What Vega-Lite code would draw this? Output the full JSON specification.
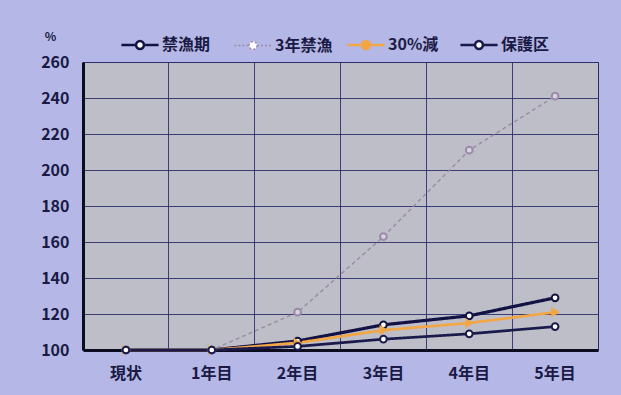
{
  "$schema": "https://vega.github.io/schema/vega-lite/v6.json",
  "width": 515,
  "height": 288,
  "autosize": {"type": "none"},
  "padding": {"left": 83, "top": 62, "right": 23, "bottom": 45},
  "background": "#b5b8e6",
  "config": {
    "view": {"fill": "#bebec8", "stroke": "#2c2c64", "strokeWidth": 1},
    "font": "Noto Sans CJK JP",
    "axis": {
      "labelFont": "Noto Sans CJK JP",
      "labelFontWeight": "bold",
      "labelColor": "#1a1a44",
      "gridColor": "#2e2e6e",
      "gridWidth": 1,
      "gridOpacity": 0.9
    }
  },
  "data": {
    "values": [
      {"year": "現状", "series": "禁漁期", "value": 100},
      {"year": "1年目", "series": "禁漁期", "value": 100},
      {"year": "2年目", "series": "禁漁期", "value": 105},
      {"year": "3年目", "series": "禁漁期", "value": 114},
      {"year": "4年目", "series": "禁漁期", "value": 119},
      {"year": "5年目", "series": "禁漁期", "value": 129},
      {"year": "現状", "series": "3年禁漁", "value": 100},
      {"year": "1年目", "series": "3年禁漁", "value": 100},
      {"year": "2年目", "series": "3年禁漁", "value": 121},
      {"year": "3年目", "series": "3年禁漁", "value": 163},
      {"year": "4年目", "series": "3年禁漁", "value": 211},
      {"year": "5年目", "series": "3年禁漁", "value": 241},
      {"year": "現状", "series": "30%減", "value": 100},
      {"year": "1年目", "series": "30%減", "value": 100},
      {"year": "2年目", "series": "30%減", "value": 104},
      {"year": "3年目", "series": "30%減", "value": 111},
      {"year": "4年目", "series": "30%減", "value": 115},
      {"year": "5年目", "series": "30%減", "value": 121},
      {"year": "現状", "series": "保護区", "value": 100},
      {"year": "1年目", "series": "保護区", "value": 100},
      {"year": "2年目", "series": "保護区", "value": 102},
      {"year": "3年目", "series": "保護区", "value": 106},
      {"year": "4年目", "series": "保護区", "value": 109},
      {"year": "5年目", "series": "保護区", "value": 113}
    ]
  },
  "encoding": {
    "x": {
      "field": "year",
      "type": "ordinal",
      "sort": ["現状", "1年目", "2年目", "3年目", "4年目", "5年目"],
      "scale": {"type": "band", "paddingInner": 0, "paddingOuter": 0},
      "axis": {
        "title": null,
        "labelAngle": 0,
        "labelFontSize": 16,
        "labelPadding": 15,
        "ticks": false,
        "grid": true,
        "bandPosition": 0,
        "domainColor": "#0c0c20",
        "domainWidth": 3
      }
    },
    "y": {
      "field": "value",
      "type": "quantitative",
      "scale": {"domain": [100, 260], "nice": false, "zero": false},
      "axis": {
        "values": [100, 120, 140, 160, 180, 200, 220, 240, 260],
        "title": "%",
        "titleAngle": 0,
        "titleX": -33,
        "titleY": -26,
        "titleAlign": "center",
        "titleBaseline": "middle",
        "titleFontSize": 12,
        "titleFontWeight": "bold",
        "titleColor": "#1a1a44",
        "labelFontSize": 16,
        "labelPadding": 14,
        "ticks": false,
        "grid": true,
        "domainColor": "#0c0c20",
        "domainWidth": 3
      }
    },
    "color": {
      "field": "series",
      "type": "nominal",
      "scale": {
        "domain": ["禁漁期", "3年禁漁", "30%減", "保護区"],
        "range": ["#121244", "#9a8aa6", "#f2a644", "#1a1a4c"]
      },
      "legend": {
        "title": null,
        "orient": "none",
        "legendX": 49,
        "legendY": -25,
        "direction": "horizontal",
        "columns": 4,
        "gridAlign": "all",
        "columnPadding": 9,
        "symbolType": "M-1.55,0H-0.33M0.33,0H1.55M-0.33,0A0.33,0.33 0 1 1 0.33,0A0.33,0.33 0 1 1 -0.33,0",
        "symbolSize": 576,
        "symbolStrokeWidth": 2.5,
        "labelOffset": 14,
        "labelFont": "Noto Sans CJK JP",
        "labelFontSize": 16,
        "labelFontWeight": "bold",
        "labelColor": "#1a1a44",
        "encode": {
          "symbols": {
            "update": {
              "shape": {"value": "M-1.55,0H-0.33M0.33,0H1.55M-0.33,0A0.33,0.33 0 1 1 0.33,0A0.33,0.33 0 1 1 -0.33,0"},
              "size": {"value": 576},
              "fill": {"signal": "datum.value === '30%減' ? '#f2a644' : '#ffffff'"},
              "strokeWidth": {"signal": "datum.value === '3年禁漁' ? 1.5 : 2.5"},
              "strokeDash": {"signal": "datum.value === '3年禁漁' ? [2, 2] : []"}
            }
          }
        }
      }
    }
  },
  "layer": [
    {
      "mark": {"type": "line"},
      "encoding": {
        "strokeDash": {
          "condition": {"test": "datum.series === '3年禁漁'", "value": [4, 3]},
          "value": [1, 0]
        },
        "strokeWidth": {
          "condition": [
            {"test": "datum.series === '3年禁漁'", "value": 1.4},
            {"test": "datum.series === '禁漁期'", "value": 3.2}
          ],
          "value": 2.7
        }
      }
    },
    {
      "mark": {"type": "point", "size": 45, "strokeWidth": 2, "opacity": 1, "filled": false},
      "encoding": {
        "fill": {
          "condition": [
            {"test": "datum.series === '30%減'", "value": "#f2a644"},
            {"test": "datum.series === '3年禁漁'", "value": "#d6d2e2"}
          ],
          "value": "#ffffff"
        },
        "shape": {
          "condition": {"test": "datum.series === '30%減'", "value": "triangle-right"},
          "value": "circle"
        }
      }
    }
  ]
}
